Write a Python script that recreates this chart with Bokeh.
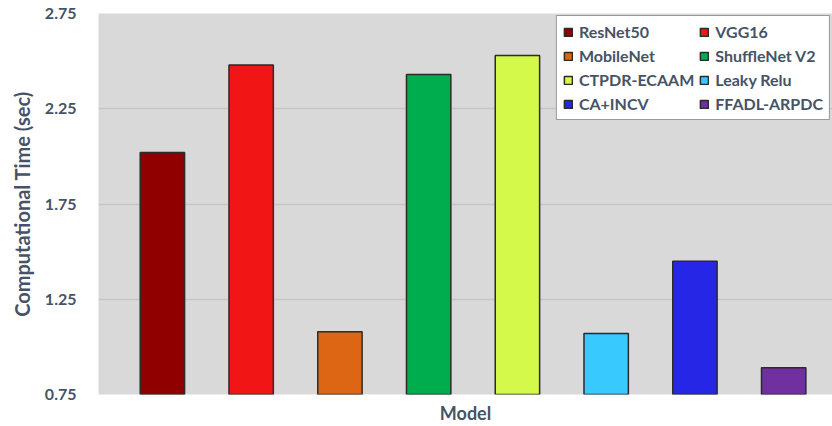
from bokeh.plotting import figure
from bokeh.models import ColumnDataSource, FixedTicker, Legend, LegendItem
from bokeh.embed import file_html
from bokeh.resources import INLINE

models = ["ResNet50", "VGG16", "MobileNet", "ShuffleNet V2", "CTPDR-ECAAM", "Leaky Relu", "CA+INCV", "FFADL-ARPDC"]
times = [2.02, 2.48, 1.08, 2.43, 2.53, 1.07, 1.45, 0.89]
colors = ["#900000", "#F21515", "#DD6614", "#00AD4E", "#D4F94A", "#38C9FF", "#2626E6", "#7030A0"]
y_ticks = [0.75, 1.25, 1.75, 2.25, 2.75]

FONT = "Lato"
TXT = "#465366"

p = figure(width=832, height=426, output_backend="svg", toolbar_location=None,
           x_range=(-0.72, 7.55), y_range=(0.75, 2.75),
           min_border_left=98, min_border_right=0, min_border_top=13, min_border_bottom=32)
p.background_fill_color = "#D9D9D9"
p.border_fill_color = "white"
p.outline_line_color = None

renderers = []
for i, (m, t, c) in enumerate(zip(models, times, colors)):
    src = ColumnDataSource(dict(x=[i], top=[t]))
    r = p.vbar(x="x", top="top", bottom=0.75, width=0.5, source=src,
               fill_color=c, line_color="#2b2b2b", line_width=1.5)
    renderers.append((m, r))

p.xgrid.grid_line_color = None
p.ygrid.grid_line_color = "#C6C6C6"
p.ygrid.grid_line_width = 1.5

p.yaxis.ticker = FixedTicker(ticks=y_ticks)
p.yaxis.formatter.use_scientific = False
p.yaxis.axis_line_color = None
p.yaxis.major_tick_line_color = None
p.yaxis.minor_tick_line_color = None
p.yaxis.major_label_text_font = FONT
p.yaxis.major_label_text_font_style = "bold"
p.yaxis.major_label_text_font_size = "16px"
p.yaxis.major_label_text_color = TXT
p.yaxis.major_label_standoff = 16
p.yaxis.axis_label = "Computational Time (sec)"
p.yaxis.axis_label_text_font = FONT
p.yaxis.axis_label_text_font_style = "bold"
p.yaxis.axis_label_text_font_size = "20px"
p.yaxis.axis_label_text_color = TXT
p.yaxis.axis_label_standoff = 8

p.xaxis.ticker = FixedTicker(ticks=[])
p.xaxis.axis_line_color = None
p.xaxis.major_tick_line_color = None
p.xaxis.minor_tick_line_color = None
p.xaxis.major_label_text_font_size = "0px"
p.xaxis.axis_label = "Model"
p.xaxis.axis_label_text_font = FONT
p.xaxis.axis_label_text_font_style = "bold"
p.xaxis.axis_label_text_font_size = "18px"
p.xaxis.axis_label_text_color = TXT
p.xaxis.axis_label_standoff = 7

# legend laid out column-major; reorder so rows read left-to-right
order = [0, 2, 4, 6, 1, 3, 5, 7]
items = [LegendItem(label=renderers[k][0], renderers=[renderers[k][1]]) for k in order]
legend = Legend(items=items, location="top_right", ncols=2,
                label_text_font=FONT, label_text_font_style="bold",
                label_text_font_size="16px", label_text_color=TXT,
                glyph_width=10, glyph_height=10, label_height=19,
                spacing=5, padding=6, margin=3, label_standoff=6,
                border_line_color="#333333", border_line_width=1.2,
                background_fill_color="white", background_fill_alpha=1.0)
legend.margin = 2
p.add_layout(legend)

open("out.html", "w").write(file_html(p, INLINE))
